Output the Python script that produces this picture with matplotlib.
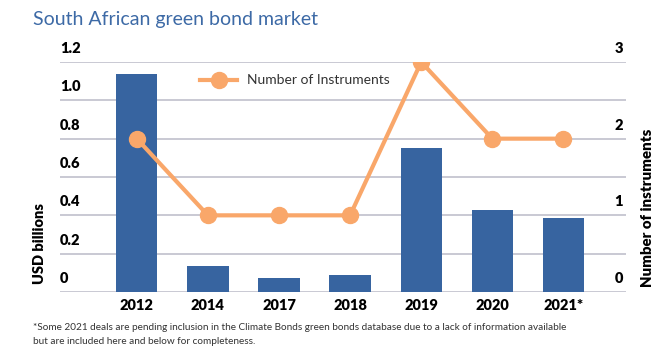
import matplotlib
matplotlib.use("Agg")
import matplotlib.pyplot as plt
from matplotlib.lines import Line2D
import matplotlib.transforms as mtransforms

years = ["2012", "2014", "2017", "2018", "2019", "2020", "2021*"]
usd_billions = [1.137, 0.136, 0.073, 0.090, 0.753, 0.430, 0.386]
num_instruments = [2, 1, 1, 1, 3, 2, 2]
left_ticks = [0, 0.2, 0.4, 0.6, 0.8, 1.0, 1.2]
left_tick_labels = ["0", "0.2", "0.4", "0.6", "0.8", "1.0", "1.2"]
right_ticks = [0, 1, 2, 3]
right_tick_labels = ["0", "1", "2", "3"]

BLUE = "#3764a0"
ORANGE = "#f9a76a"
GRID = "#c9c9d3"
FONT = "Lato"
BOLD = "heavy"

W, H = 662, 352
fig = plt.figure(figsize=(W / 100, H / 100), dpi=100)
ax = fig.add_axes([60 / W, 1 - 292 / H, (626 - 60) / W, (292 - 62) / H])
x = list(range(len(years)))
ax.bar(x, usd_billions, width=0.58, color=BLUE, zorder=2)
ax.set_ylim(0, 1.2)
ax.set_xlim(-1.08, 6.88)
ax.set_yticks(left_ticks)
ax.set_yticklabels([])
ax.tick_params(axis="y", length=0)
ax.grid(axis="y", color=GRID, linewidth=1.4, zorder=0)
ax.set_xticks(x)
ax.set_xticklabels(years, fontfamily=FONT, fontweight=BOLD, fontsize=10.5)
ax.tick_params(axis="x", length=0, pad=5)
for s in ax.spines.values():
    s.set_visible(False)

# left tick labels sit above the gridlines
off = mtransforms.ScaledTranslation(0, 7 / 100, fig.dpi_scale_trans)
for v, lab in zip(left_ticks, left_tick_labels):
    ax.text(0, v, lab, transform=ax.get_yaxis_transform() + off, ha="left", va="bottom",
            fontfamily=FONT, fontweight=BOLD, fontsize=10.5)

ax2 = ax.twinx()
ax2.set_ylim(0, 3)
ax2.plot(x, num_instruments, color=ORANGE, linewidth=3, marker="o", markersize=11.5, zorder=3)
ax2.set_yticks(right_ticks)
ax2.set_yticklabels([])
ax2.tick_params(axis="y", length=0)
for s in ax2.spines.values():
    s.set_visible(False)
for v, lab in zip(right_ticks, right_tick_labels):
    ax2.text(0.995, v, lab, transform=ax2.get_yaxis_transform() + off, ha="right", va="bottom",
             fontfamily=FONT, fontweight=BOLD, fontsize=10.5)

fig.text(40 / W, 1 - 244 / H, "USD billions", rotation=90, ha="center", va="center",
         fontfamily=FONT, fontweight=BOLD, fontsize=10.5)
fig.text(648 / W, 1 - 208 / H, "Number of instruments", rotation=90, ha="center", va="center",
         fontfamily=FONT, fontweight=BOLD, fontsize=10.8)

# legend
leg_line = Line2D([200 / W, 237 / W], [1 - 80 / H, 1 - 80 / H], transform=fig.transFigure,
                  color=ORANGE, linewidth=3)
fig.add_artist(leg_line)
leg_mk = Line2D([219 / W], [1 - 80 / H], transform=fig.transFigure, color=ORANGE,
                marker="o", markersize=11.5, linestyle="none")
fig.add_artist(leg_mk)
fig.text(247 / W, 1 - 80 / H, "Number of Instruments", ha="left", va="center",
         fontfamily=FONT, fontsize=10, color="#333333")

fig.text(33 / W, 1 - 20 / H, "South African green bond market", ha="left", va="center",
         fontfamily=FONT, fontweight="normal", fontsize=14, color="#3d6aa6")

fig.text(33 / W, 1 - 327 / H,
         "*Some 2021 deals are pending inclusion in the Climate Bonds green bonds database due to a lack of information available",
         ha="left", va="center", fontfamily=FONT, fontsize=7.2, color="#333333")
fig.text(33 / W, 1 - 341 / H, "but are included here and below for completeness.",
         ha="left", va="center", fontfamily=FONT, fontsize=7.2, color="#333333")

fig.savefig("out.png", dpi=100)
